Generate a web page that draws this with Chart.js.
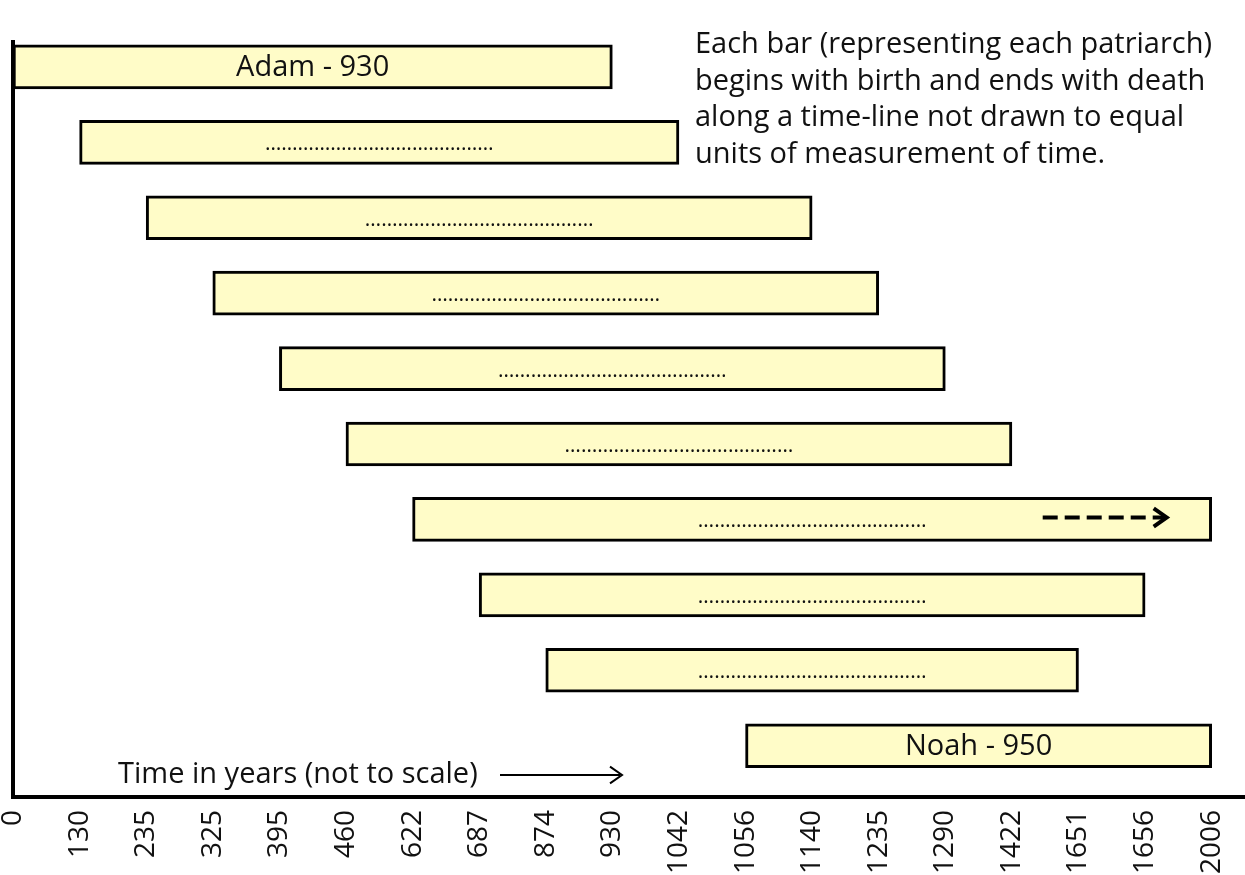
<!DOCTYPE html>
<html>
<head>
<meta charset="utf-8">
<script src="https://cdn.jsdelivr.net/npm/chart.js@4"></script>
<style>
  body { margin: 0; background: #fff; }
</style>
</head>
<body>
<canvas id="chart" width="1245" height="875"></canvas>
<script>
// Tick labels along the time-line (not to scale: each label gets one slot)
const tickYears = [0, 130, 235, 325, 395, 460, 622, 687, 874, 930, 1042, 1056, 1140, 1235, 1290, 1422, 1651, 1656, 2006];

// One bar per patriarch: year of birth and year of death
const births = [0, 130, 235, 325, 395, 460, 622, 687, 874, 1056];
const deaths = [930, 1042, 1140, 1235, 1290, 1422, 2006, 1656, 1651, 2006];

const DOTS = '……………………………………';
const barLabels = ['Adam - 930', DOTS, DOTS, DOTS, DOTS, DOTS, DOTS, DOTS, DOTS, 'Noah - 950'];
const arrowRow = 6; // bar that carries on (dashed arrow)

const note = [
    'Each bar (representing each patriarch)',
    'begins with birth and ends with death',
    'along a time-line not drawn to equal',
    'units of measurement of time.'
];
const axisNote = 'Time in years (not to scale)';

const FONT = '"Open Sans", Lato, sans-serif';
const slot = y => tickYears.indexOf(y);

function arrow(ctx, x1, x2, y, width, head, dash) {
    ctx.save();
    ctx.strokeStyle = '#000';
    ctx.lineWidth = width;
    ctx.setLineDash(dash || []);
    ctx.beginPath();
    ctx.moveTo(x1, y);
    ctx.lineTo(x2 - 2, y);
    ctx.stroke();
    ctx.setLineDash([]);
    ctx.beginPath();
    ctx.moveTo(x2 - head, y - head * 0.7);
    ctx.lineTo(x2, y);
    ctx.lineTo(x2 - head, y + head * 0.7);
    ctx.stroke();
    ctx.restore();
}

const annotations = {
    id: 'annotations',
    afterDatasetsDraw(chart) {
        const ctx = chart.ctx;
        const meta = chart.getDatasetMeta(0);
        ctx.save();
        ctx.fillStyle = '#111';
        ctx.textAlign = 'center';
        ctx.textBaseline = 'middle';
        meta.data.forEach((bar, i) => {
            const p = bar.getProps(['x', 'y', 'base'], true);
            const cx = (p.x + p.base) / 2;
            if (barLabels[i] === DOTS) {
                ctx.font = '21px ' + FONT;
                ctx.fillText(barLabels[i], cx, p.y + 2);
            } else {
                ctx.font = '29px ' + FONT;
                ctx.fillText(barLabels[i], cx, p.y + 1);
            }
            if (i === arrowRow) {
                const right = Math.max(p.x, p.base);
                arrow(ctx, right - 169, right - 45, p.y - 2, 4, 13, [15, 7]);
            }
        });

        // explanatory paragraph, top right
        ctx.textAlign = 'left';
        ctx.textBaseline = 'alphabetic';
        ctx.font = '29px ' + FONT;
        note.forEach((line, k) => ctx.fillText(line, 695, 53 + k * 36.5));

        // axis note with arrow
        const area = chart.chartArea;
        ctx.font = '29px ' + FONT;
        ctx.fillText(axisNote, 118, area.bottom - 14);
        arrow(ctx, 500, 622, area.bottom - 22, 2, 12);
        ctx.restore();
    }
};

new Chart(document.getElementById('chart'), {
    type: 'bar',
    data: {
        datasets: [{
            data: births.map((b, i) => ({ x: [slot(b), slot(deaths[i])], y: i })),
            backgroundColor: '#FFFCC8',
            borderColor: '#000',
            borderWidth: 3,
            borderSkipped: false,
            barThickness: 44
        }]
    },
    options: {
        indexAxis: 'y',
        responsive: false,
        animation: false,
        layout: { padding: { top: 42, right: 0, left: 0, bottom: 0 } },
        plugins: { legend: { display: false }, tooltip: { enabled: false } },
        scales: {
            x: {
                type: 'linear',
                min: 0,
                max: 18.5,
                offset: false,
                grid: { display: false, drawTicks: false },
                border: { color: '#000', width: 4 },
                afterBuildTicks: s => { s.ticks = tickYears.map((_, i) => ({ value: i })); },
                afterFit: s => { s.height = 78; s.paddingLeft = 0; s.paddingRight = 0; },
                ticks: {
                    autoSkip: false,
                    minRotation: 90,
                    maxRotation: 90,
                    padding: 13,
                    color: '#111',
                    font: { family: FONT, size: 28 },
                    callback: (v, i) => String(tickYears[i])
                }
            },
            y: {
                type: 'linear',
                reverse: true,
                offset: false,
                min: -0.33,
                max: 9.68,
                grid: { display: false, drawTicks: false },
                border: { color: '#000', width: 4 },
                ticks: { display: false },
                afterFit: s => { s.width = 13; }
            }
        }
    },
    plugins: [annotations]
});
</script>
</body>
</html>
